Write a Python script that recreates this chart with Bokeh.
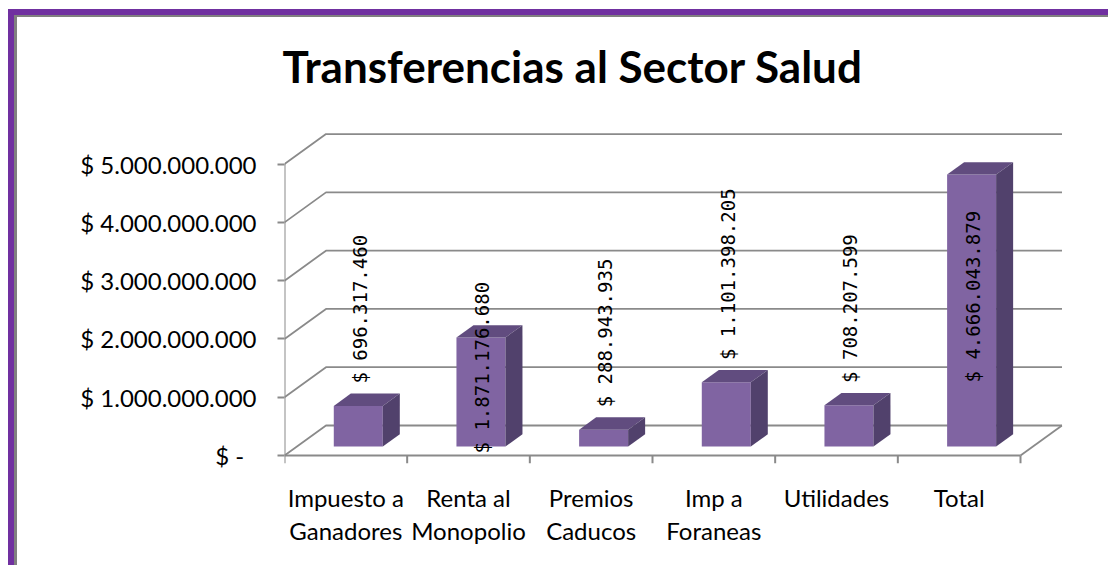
import math
from bokeh.plotting import figure
from bokeh.models import Range1d, FixedTicker, Title
from bokeh.core.properties import value
from bokeh.embed import file_html
from bokeh.resources import INLINE

# ---------------- data ----------------
title_text = "Transferencias al Sector Salud"
categories = ["Impuesto a\nGanadores", "Renta al\nMonopolio", "Premios\nCaducos",
              "Imp a\nForaneas", "Utilidades", "Total"]
amounts = [696317460, 1871176680, 288943935, 1101398205, 708207599, 4666043879]
y_ticks = [0, 1000000000, 2000000000, 3000000000, 4000000000, 5000000000]
y_tick_labels = ["$ -\u00a0\u00a0", "$ 1.000.000.000", "$ 2.000.000.000",
                 "$ 3.000.000.000", "$ 4.000.000.000", "$ 5.000.000.000"]
label_modes = ["out", "base", "out", "out", "out", "in"]

# ---------------- layout (pixels, figure-local) ----------------
W, H = 1100, 556
FL, FR, FT, FB = 270, 1048, 116, 448        # frame edges
ZERO = 440                                  # front floor line
CAT_PX = 736 / 6                            # px per category
PX_PER_UNIT = 58.28 / 1e9                   # px per peso

def ux(px):
    return px / CAT_PX

def uy(px):
    return px / PX_PER_UNIT

DBX, DBY = ux(41.5), uy(30)                 # back wall offset
FRONT_D, BAR_D = 0.30, 0.41                 # bar depth placement
fdx, fdy = FRONT_D * DBX, FRONT_D * DBY
bdx, bdy = BAR_D * DBX, BAR_D * DBY
BW = ux(49)

GRID = "#8a8a8a"
FRONT_C, TOP_C, SIDE_C = "#8064a2", "#614c7f", "#51416c"
LBL_FONT = "Lato"

frame_css = {
    "margin-left": "8px",
    "margin-top": "9px",
    "border-left": "6px solid #7030a0",
    "border-top": "6px solid #7030a0",
    "box-shadow": "inset 3px 2px 0 0 #808080",
    "background-color": "white",
}

p = figure(width=W, height=H, output_backend="svg", toolbar_location=None,
           title=None,
           x_range=Range1d(0, (FR - FL) / CAT_PX),
           y_range=Range1d(-(FB - ZERO) / PX_PER_UNIT, (ZERO - FT) / PX_PER_UNIT),
           min_border_left=FL, min_border_right=W - FR,
           min_border_top=FT, min_border_bottom=H - FB,
           styles=frame_css)
p.xgrid.visible = False
p.ygrid.visible = False
p.outline_line_color = None
p.background_fill_color = "white"
p.border_fill_alpha = 0

n = len(categories)
ymax = y_ticks[-1]

# walls: side diagonals + back gridlines
p.multi_line(xs=[[0, DBX, n + DBX] for _ in y_ticks],
             ys=[[t, t + DBY, t + DBY] for t in y_ticks],
             line_color=GRID, line_width=1.8)
# right floor edge
p.line([n, n + DBX], [0, DBY], line_color=GRID, line_width=1.8)
# front axis line & floor front line
p.line([0, 0], [0, ymax], line_color=GRID, line_width=2)
p.line([0, n], [0, 0], line_color=GRID, line_width=2)
# category boundary ticks
p.segment(x0=list(range(n + 1)), y0=[0] * (n + 1),
          x1=list(range(n + 1)), y1=[-uy(8)] * (n + 1),
          line_color=GRID, line_width=2)

# bars
L = [i + 0.5 - BW / 2 + fdx for i in range(n)]
R = [l + BW for l in L]
T = [a + fdy for a in amounts]
p.quad(left=L, right=R, bottom=[fdy] * n, top=T,
       fill_color=FRONT_C, line_color=None)
p.patches(xs=[[l, r, r + bdx, l + bdx] for l, r in zip(L, R)],
          ys=[[t, t, t + bdy, t + bdy] for t in T],
          fill_color=TOP_C, line_color=None)
p.patches(xs=[[r, r + bdx, r + bdx, r] for r in R],
          ys=[[fdy, fdy + bdy, t + bdy, t] for t in T],
          fill_color=SIDE_C, line_color=None)

# data labels
lbl_text = ["$ " + f"{a:,}".replace(",", ".") for a in amounts]
lbl_x = [i + 0.5 + fdx + ux(1.5) for i in range(n)]
lbl_y = []
for a, m in zip(amounts, label_modes):
    if m == "out":
        lbl_y.append(a + fdy + bdy + uy(10))
    elif m == "base":
        lbl_y.append(uy(2))
    else:
        lbl_y.append(uy(73))
p.text(x=lbl_x, y=lbl_y, text=lbl_text, angle=math.pi / 2,
       text_align="left", text_baseline="middle",
       text_font=value("DejaVu Sans Mono"), text_font_size="19px", text_color="black")

# axes
p.yaxis.ticker = FixedTicker(ticks=y_ticks)
p.yaxis.major_label_overrides = {t: s for t, s in zip(y_ticks, y_tick_labels)}
p.yaxis.axis_line_color = None
p.yaxis.major_tick_out = 7
p.yaxis.major_tick_in = 0
p.yaxis.minor_tick_out = 0
p.yaxis.minor_tick_in = 0
p.yaxis.major_tick_line_color = GRID
p.yaxis.major_tick_line_width = 2
p.yaxis.major_label_standoff = 21
p.yaxis.major_label_text_font = LBL_FONT
p.yaxis.major_label_text_font_size = "24px"
p.yaxis.major_label_text_color = "black"

x_centers = [i + 0.5 for i in range(n)]
p.xaxis.ticker = FixedTicker(ticks=x_centers)
p.xaxis.major_label_overrides = {c: s for c, s in zip(x_centers, categories)}
p.xaxis.axis_line_color = None
p.xaxis.major_tick_out = 0
p.xaxis.major_tick_in = 0
p.xaxis.minor_tick_out = 0
p.xaxis.minor_tick_in = 0
p.xaxis.major_label_standoff = 19
p.xaxis.major_label_text_font = LBL_FONT
p.xaxis.major_label_text_font_size = "24px"
p.xaxis.major_label_text_line_height = 1.15
p.xaxis.major_label_text_color = "black"

# title: a thin spacer next to the frame, then the title itself above it
p.add_layout(Title(text=" ", text_font_size="2px", standoff=36), "above")
p.add_layout(Title(text=title_text, align="left", offset=-2, vertical_align="bottom",
                   standoff=0, text_font="Lato", text_font_style="bold",
                   text_font_size="44px", text_color="black"), "above")

open("out.html", "w").write(file_html(p, INLINE))
